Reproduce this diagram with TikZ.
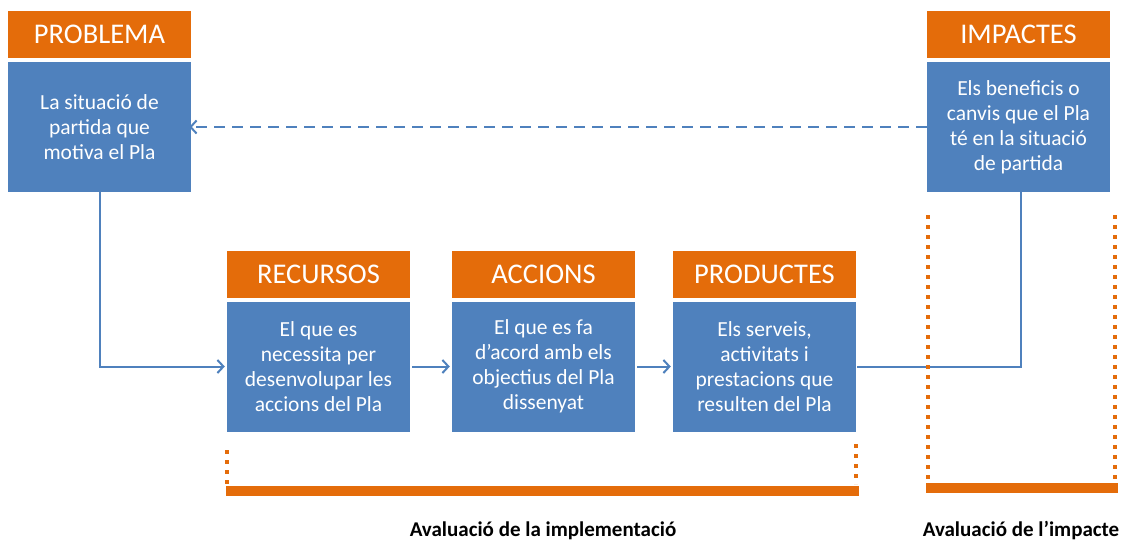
\documentclass[tikz,border=0pt]{standalone}
\usepackage{fontspec}
\setmainfont{Carlito}
\usetikzlibrary{arrows.meta}
\definecolor{taronja}{RGB}{228,108,10}
\definecolor{blau}{RGB}{79,129,189}
\tikzset{
  capcal/.style={fill=taronja, text=white, minimum width=183pt, minimum height=47pt,
    inner sep=0pt, font=\fontsize{28.5}{30}\selectfont},
  cos/.style={fill=blau, text=white, minimum width=183pt, minimum height=130pt,
    inner sep=0pt, align=center, font=\fontsize{21.5}{25}\selectfont},
  linia/.style={blau, line width=2pt},
  punts/.style={taronja, line width=4pt, dash pattern=on 4pt off 6pt},
  barra/.style={fill=taronja},
  peu/.style={font=\fontsize{21}{24}\selectfont\bfseries}
}
\begin{document}
\begin{tikzpicture}[x=1pt, y=-1pt, >={Straight Barb[length=6pt, width=13pt]}]
            \useasboundingbox (0,0) rectangle (1127,541);

            % Caixes de dalt
            \node[capcal] (problema) at (99.5,34.5) {PROBLEMA};
            \node[cos] (problemaText) at (99.5,127) {La situació de\\partida que\\motiva el Pla};
            \node[capcal] (impactes) at (1018.5,34.5) {IMPACTES};
            \node[cos] (impactesText) at (1018.5,127) {Els beneficis o\\canvis que el Pla\\té en la situació\\de partida};

            % Caixes del mig
            \node[capcal] (recursos) at (318.5,274) {RECURSOS};
            \node[cos] (recursosText) at (318.5,366.5) {El que es\\necessita per\\desenvolupar les\\accions del Pla};
            \node[capcal] (accions) at (543.5,274) {ACCIONS};
            \node[cos] (accionsText) at (543.5,366.5) {El que es fa\\d’acord amb els\\objectius del Pla\\dissenyat};
            \node[capcal] (productes) at (764.5,274) {PRODUCTES};
            \node[cos] (productesText) at (764.5,366.5) {Els serveis,\\activitats i\\prestacions que\\resulten del Pla};

            % Fletxes
            \draw[linia, ->, dash pattern=on 11pt off 7pt] (impactesText.west) -- ([xshift=-2pt]problemaText.east);
            \draw[linia, ->] (problemaText.south) |- ([xshift=-2pt]recursosText.west);
            \draw[linia, ->] ([xshift=2pt]recursosText.east) -- ([xshift=-2pt]accionsText.west);
            \draw[linia, ->] ([xshift=2pt]accionsText.east) -- ([xshift=-2pt]productesText.west);
            \draw[linia] ([xshift=1pt]productesText.east) -| ([xshift=2.5pt]impactesText.south);

            % Avaluacio de la implementacio
            \coordinate (impA) at (227,450);
            \coordinate (impB) at (856,444);
            \draw[punts] (impA) -- (227,486);
            \draw[punts] (impB) -- (856,484);
            \fill[barra] (226,486) rectangle (859,496);
            \node[peu] (avalImpl) at (543,531) {Avaluació de la implementació};

            % Avaluacio de l'impacte
            \coordinate (impC) at (928,215);
            \coordinate (impD) at (1115,215);
            \draw[punts] (impC) -- (928,482);
            \draw[punts] (impD) -- (1115,482);
            \fill[barra] (926,483) rectangle (1118,493);
            \node[peu] (avalImpacte) at (1021,531) {Avaluació de l’impacte};

        \end{tikzpicture}
\end{document}
